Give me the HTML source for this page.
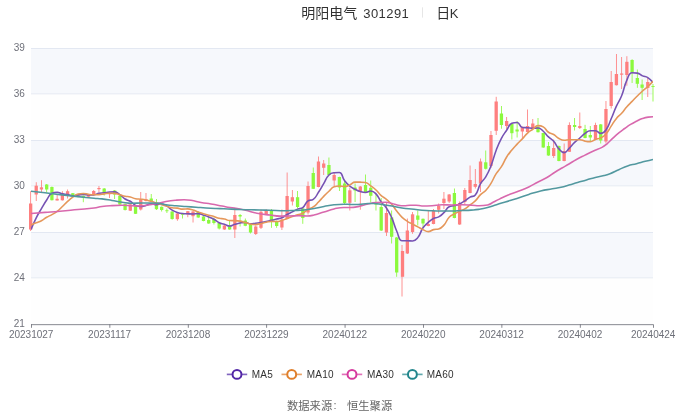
<!DOCTYPE html>
<html lang="zh"><head><meta charset="utf-8"><title>明阳电气 301291 日K</title>
<style>html,body{margin:0;padding:0;background:#fff}body{width:680px;height:413px;overflow:hidden;font-family:"Liberation Sans","Noto Sans CJK SC",sans-serif}svg{display:block}text{font-family:"Liberation Sans","Noto Sans CJK SC",sans-serif}</style></head><body>
<svg width="680" height="413" viewBox="0 0 680 413" role="img" aria-label="明阳电气 301291 日K">
<rect width="680" height="413" fill="#fff"/>
<rect x="31" y="48.5" width="622" height="45.4" fill="#f6f8fc"/>
<rect x="31" y="93.9" width="622" height="46.6" fill="#fefefe"/>
<rect x="31" y="140.5" width="622" height="45.35" fill="#f6f8fc"/>
<rect x="31" y="185.85" width="622" height="46.6" fill="#fefefe"/>
<rect x="31" y="232.45" width="622" height="45.4" fill="#f6f8fc"/>
<rect x="31" y="277.85" width="622" height="46.55" fill="#fefefe"/>
<rect x="31" y="48.07" width="622" height="0.86" fill="#dfe5f0"/>
<rect x="31" y="93.47" width="622" height="0.86" fill="#dfe5f0" fill-opacity="0.8"/>
<rect x="31" y="140.07" width="622" height="0.86" fill="#dfe5f0"/>
<rect x="31" y="185.42" width="622" height="0.86" fill="#dfe5f0" fill-opacity="0.8"/>
<rect x="31" y="232.02" width="622" height="0.86" fill="#dfe5f0"/>
<rect x="31" y="277.42" width="622" height="0.86" fill="#dfe5f0" fill-opacity="0.8"/>
<defs><filter id="tb" x="0" y="0" width="680" height="413" filterUnits="userSpaceOnUse"><feGaussianBlur stdDeviation="0.3"/></filter><clipPath id="gc"><rect x="31" y="46.5" width="622" height="279.9"/></clipPath></defs>
<g>
<g id="candles">
<rect x="30.23" y="191.2" width="0.84" height="39.8" fill="#fe7f7f"/>
<rect x="29" y="203.5" width="3.3" height="26" fill="#fe7f7f"/>
<rect x="35.81" y="182.2" width="0.84" height="18.8" fill="#fe7f7f"/>
<rect x="34.58" y="185.7" width="3.3" height="8.8" fill="#fe7f7f"/>
<rect x="41.03" y="180.2" width="0.84" height="12.8" fill="#fe7f7f"/>
<rect x="39.8" y="187.3" width="3.3" height="2.2" fill="#fe7f7f"/>
<rect x="46.26" y="184" width="0.84" height="8.5" fill="#8bf93d"/>
<rect x="45.03" y="184.5" width="3.3" height="5" fill="#8bf93d"/>
<rect x="51.49" y="186.5" width="0.84" height="14" fill="#8bf93d"/>
<rect x="50.26" y="187" width="3.3" height="13.2" fill="#8bf93d"/>
<rect x="56.71" y="194.5" width="0.84" height="6" fill="#fe7f7f"/>
<rect x="55.48" y="198.8" width="3.3" height="1.7" fill="#fe7f7f"/>
<rect x="61.94" y="191.2" width="0.84" height="9.3" fill="#fe7f7f"/>
<rect x="60.71" y="193.5" width="3.3" height="6.8" fill="#fe7f7f"/>
<rect x="67.17" y="189.5" width="0.84" height="9" fill="#fe7f7f"/>
<rect x="65.94" y="191.2" width="3.3" height="2.8" fill="#fe7f7f"/>
<rect x="72.4" y="193" width="0.84" height="2.8" fill="#8bf93d"/>
<rect x="71.17" y="193.2" width="3.3" height="2.3" fill="#8bf93d"/>
<rect x="77.62" y="195" width="0.84" height="2.3" fill="#fe7f7f"/>
<rect x="76.39" y="195.5" width="3.3" height="1.5" fill="#fe7f7f"/>
<rect x="82.85" y="195.5" width="0.84" height="6.7" fill="#8bf93d"/>
<rect x="81.62" y="195.8" width="3.3" height="1.4" fill="#8bf93d"/>
<rect x="88.08" y="194.5" width="0.84" height="2.5" fill="#fe7f7f"/>
<rect x="86.85" y="195" width="3.3" height="1.7" fill="#fe7f7f"/>
<rect x="93.3" y="190" width="0.84" height="5.3" fill="#fe7f7f"/>
<rect x="92.07" y="191" width="3.3" height="4" fill="#fe7f7f"/>
<rect x="98.53" y="186" width="0.84" height="6.5" fill="#fe7f7f"/>
<rect x="97.3" y="188" width="3.3" height="1.2" fill="#fe7f7f"/>
<rect x="103.76" y="188" width="0.84" height="7.5" fill="#8bf93d"/>
<rect x="102.53" y="188.5" width="3.3" height="4.5" fill="#8bf93d"/>
<rect x="108.98" y="192.5" width="0.84" height="5.5" fill="#fe7f7f"/>
<rect x="107.75" y="193" width="3.3" height="1.2" fill="#fe7f7f"/>
<rect x="114.21" y="190" width="0.84" height="9" fill="#8bf93d"/>
<rect x="112.98" y="190.5" width="3.3" height="4" fill="#8bf93d"/>
<rect x="119.44" y="195.5" width="0.84" height="9.5" fill="#8bf93d"/>
<rect x="118.21" y="195.8" width="3.3" height="8.7" fill="#8bf93d"/>
<rect x="124.66" y="203.5" width="0.84" height="7" fill="#8bf93d"/>
<rect x="123.43" y="204" width="3.3" height="6" fill="#8bf93d"/>
<rect x="129.89" y="204" width="0.84" height="7" fill="#fe7f7f"/>
<rect x="128.66" y="204.3" width="3.3" height="6.4" fill="#fe7f7f"/>
<rect x="135.12" y="205.5" width="0.84" height="8.5" fill="#8bf93d"/>
<rect x="133.89" y="206" width="3.3" height="7.8" fill="#8bf93d"/>
<rect x="140.34" y="192" width="0.84" height="18.5" fill="#fe7f7f"/>
<rect x="139.11" y="199.8" width="3.3" height="9.7" fill="#fe7f7f"/>
<rect x="145.57" y="193" width="0.84" height="8.5" fill="#fe7f7f"/>
<rect x="144.34" y="199.2" width="3.3" height="1.8" fill="#fe7f7f"/>
<rect x="150.8" y="194" width="0.84" height="7.8" fill="#8bf93d"/>
<rect x="149.57" y="198.5" width="3.3" height="3" fill="#8bf93d"/>
<rect x="156.03" y="199" width="0.84" height="11" fill="#8bf93d"/>
<rect x="154.8" y="202.8" width="3.3" height="6.4" fill="#8bf93d"/>
<rect x="161.25" y="206.5" width="0.84" height="5" fill="#8bf93d"/>
<rect x="160.02" y="206.8" width="3.3" height="3.2" fill="#8bf93d"/>
<rect x="166.48" y="208.5" width="0.84" height="4.5" fill="#8bf93d"/>
<rect x="165.25" y="210.3" width="3.3" height="0.9" fill="#8bf93d"/>
<rect x="171.71" y="211.2" width="0.84" height="8.5" fill="#8bf93d"/>
<rect x="170.48" y="211.5" width="3.3" height="7.5" fill="#8bf93d"/>
<rect x="176.93" y="212.5" width="0.84" height="8.3" fill="#fe7f7f"/>
<rect x="175.7" y="213.5" width="3.3" height="5.7" fill="#fe7f7f"/>
<rect x="182.16" y="213.5" width="0.84" height="5" fill="#8bf93d"/>
<rect x="180.93" y="213.8" width="3.3" height="0.9" fill="#8bf93d"/>
<rect x="187.39" y="211" width="0.84" height="6.2" fill="#fe7f7f"/>
<rect x="186.16" y="211.2" width="3.3" height="3.3" fill="#fe7f7f"/>
<rect x="192.61" y="211" width="0.84" height="11.5" fill="#fe7f7f"/>
<rect x="191.38" y="211.5" width="3.3" height="4.7" fill="#fe7f7f"/>
<rect x="197.84" y="211.5" width="0.84" height="6.3" fill="#8bf93d"/>
<rect x="196.61" y="212" width="3.3" height="5.5" fill="#8bf93d"/>
<rect x="203.07" y="216.2" width="0.84" height="5.1" fill="#8bf93d"/>
<rect x="201.84" y="216.5" width="3.3" height="4.5" fill="#8bf93d"/>
<rect x="208.29" y="217" width="0.84" height="6.8" fill="#8bf93d"/>
<rect x="207.06" y="220" width="3.3" height="3.5" fill="#8bf93d"/>
<rect x="213.52" y="217.5" width="0.84" height="7" fill="#8bf93d"/>
<rect x="212.29" y="219" width="3.3" height="4" fill="#8bf93d"/>
<rect x="218.75" y="222.7" width="0.84" height="6.8" fill="#8bf93d"/>
<rect x="217.52" y="223" width="3.3" height="5.5" fill="#8bf93d"/>
<rect x="223.97" y="225" width="0.84" height="4.8" fill="#fe7f7f"/>
<rect x="222.74" y="225.5" width="3.3" height="4" fill="#fe7f7f"/>
<rect x="229.2" y="220.5" width="0.84" height="9.3" fill="#8bf93d"/>
<rect x="227.97" y="226.2" width="3.3" height="3.3" fill="#8bf93d"/>
<rect x="234.43" y="210" width="0.84" height="28" fill="#fe7f7f"/>
<rect x="233.2" y="215" width="3.3" height="14.5" fill="#fe7f7f"/>
<rect x="239.66" y="214" width="0.84" height="12.5" fill="#8bf93d"/>
<rect x="238.43" y="215" width="3.3" height="1.5" fill="#8bf93d"/>
<rect x="244.88" y="218.5" width="0.84" height="7.7" fill="#8bf93d"/>
<rect x="243.65" y="220.5" width="3.3" height="5.3" fill="#8bf93d"/>
<rect x="250.11" y="224.2" width="0.84" height="9.3" fill="#8bf93d"/>
<rect x="248.88" y="224.5" width="3.3" height="8" fill="#8bf93d"/>
<rect x="255.34" y="225.5" width="0.84" height="9.5" fill="#fe7f7f"/>
<rect x="254.11" y="226.5" width="3.3" height="7.5" fill="#fe7f7f"/>
<rect x="260.56" y="209.5" width="0.84" height="19.5" fill="#fe7f7f"/>
<rect x="259.33" y="211.8" width="3.3" height="16" fill="#fe7f7f"/>
<rect x="265.79" y="209.2" width="0.84" height="5.3" fill="#fe7f7f"/>
<rect x="264.56" y="210.5" width="3.3" height="3.7" fill="#fe7f7f"/>
<rect x="271.02" y="209" width="0.84" height="18.8" fill="#8bf93d"/>
<rect x="269.79" y="210" width="3.3" height="10.5" fill="#8bf93d"/>
<rect x="276.24" y="220.5" width="0.84" height="7.3" fill="#8bf93d"/>
<rect x="275.01" y="222" width="3.3" height="4" fill="#8bf93d"/>
<rect x="281.47" y="209.5" width="0.84" height="20.5" fill="#fe7f7f"/>
<rect x="280.24" y="219.5" width="3.3" height="8" fill="#fe7f7f"/>
<rect x="286.7" y="172.5" width="0.84" height="46.8" fill="#fe7f7f"/>
<rect x="285.47" y="196" width="3.3" height="23" fill="#fe7f7f"/>
<rect x="291.92" y="190" width="0.84" height="15.5" fill="#fe7f7f"/>
<rect x="290.69" y="197.2" width="3.3" height="4.3" fill="#fe7f7f"/>
<rect x="297.15" y="191" width="0.84" height="17.5" fill="#8bf93d"/>
<rect x="295.92" y="197.2" width="3.3" height="9.8" fill="#8bf93d"/>
<rect x="302.38" y="208" width="0.84" height="15.8" fill="#8bf93d"/>
<rect x="301.15" y="208.5" width="3.3" height="9.5" fill="#8bf93d"/>
<rect x="307.61" y="181.5" width="0.84" height="33" fill="#fe7f7f"/>
<rect x="306.38" y="186" width="3.3" height="26.5" fill="#fe7f7f"/>
<rect x="312.83" y="167.5" width="0.84" height="21.5" fill="#8bf93d"/>
<rect x="311.6" y="173" width="3.3" height="15.8" fill="#8bf93d"/>
<rect x="318.06" y="156.5" width="0.84" height="30.8" fill="#fe7f7f"/>
<rect x="316.83" y="161.5" width="3.3" height="25.5" fill="#fe7f7f"/>
<rect x="323.29" y="160" width="0.84" height="15" fill="#fe7f7f"/>
<rect x="322.06" y="163.5" width="3.3" height="4.3" fill="#fe7f7f"/>
<rect x="328.51" y="157.5" width="0.84" height="17.8" fill="#8bf93d"/>
<rect x="327.28" y="165" width="3.3" height="10" fill="#8bf93d"/>
<rect x="333.74" y="172.5" width="0.84" height="13.5" fill="#fe7f7f"/>
<rect x="332.51" y="175" width="3.3" height="5.5" fill="#fe7f7f"/>
<rect x="338.97" y="176.7" width="0.84" height="14.3" fill="#8bf93d"/>
<rect x="337.74" y="177" width="3.3" height="10.5" fill="#8bf93d"/>
<rect x="344.19" y="180" width="0.84" height="25" fill="#8bf93d"/>
<rect x="342.96" y="183.5" width="3.3" height="19.5" fill="#8bf93d"/>
<rect x="349.42" y="187.5" width="0.84" height="23" fill="#fe7f7f"/>
<rect x="348.19" y="190.3" width="3.3" height="12.5" fill="#fe7f7f"/>
<rect x="354.65" y="183.5" width="0.84" height="18.5" fill="#8bf93d"/>
<rect x="353.42" y="187.5" width="3.3" height="3" fill="#8bf93d"/>
<rect x="359.87" y="186" width="0.84" height="23.7" fill="#fe7f7f"/>
<rect x="358.64" y="186.5" width="3.3" height="5" fill="#fe7f7f"/>
<rect x="365.1" y="174.5" width="0.84" height="17.8" fill="#8bf93d"/>
<rect x="363.87" y="185" width="3.3" height="7" fill="#8bf93d"/>
<rect x="370.33" y="180.5" width="0.84" height="22" fill="#8bf93d"/>
<rect x="369.1" y="187.8" width="3.3" height="8" fill="#8bf93d"/>
<rect x="375.55" y="194" width="0.84" height="16.5" fill="#8bf93d"/>
<rect x="374.32" y="202" width="3.3" height="2.5" fill="#8bf93d"/>
<rect x="380.78" y="198" width="0.84" height="33" fill="#8bf93d"/>
<rect x="379.55" y="207" width="3.3" height="23.5" fill="#8bf93d"/>
<rect x="386.01" y="203" width="0.84" height="33" fill="#fe7f7f"/>
<rect x="384.78" y="213" width="3.3" height="19.5" fill="#fe7f7f"/>
<rect x="391.24" y="210.5" width="0.84" height="33" fill="#8bf93d"/>
<rect x="390.01" y="217.5" width="3.3" height="19.3" fill="#8bf93d"/>
<rect x="396.26" y="237" width="0.84" height="39.8" fill="#8bf93d"/>
<rect x="395.03" y="237.5" width="3.3" height="35" fill="#8bf93d"/>
<rect x="401.59" y="245" width="0.84" height="51.5" fill="#fe7f7f"/>
<rect x="400.86" y="251" width="3.3" height="25.8" fill="#fe7f7f"/>
<rect x="406.92" y="218.5" width="0.84" height="35.5" fill="#fe7f7f"/>
<rect x="405.69" y="230.5" width="3.3" height="23" fill="#fe7f7f"/>
<rect x="412.14" y="212" width="0.84" height="21.8" fill="#fe7f7f"/>
<rect x="410.91" y="214.3" width="3.3" height="17.7" fill="#fe7f7f"/>
<rect x="417.37" y="210.5" width="0.84" height="15" fill="#8bf93d"/>
<rect x="416.14" y="215.5" width="3.3" height="4.3" fill="#8bf93d"/>
<rect x="422.6" y="218.5" width="0.84" height="8.5" fill="#8bf93d"/>
<rect x="421.37" y="218.8" width="3.3" height="4.7" fill="#8bf93d"/>
<rect x="427.82" y="211" width="0.84" height="15.3" fill="#fe7f7f"/>
<rect x="426.59" y="224" width="3.3" height="2" fill="#fe7f7f"/>
<rect x="433.05" y="209" width="0.84" height="15.3" fill="#fe7f7f"/>
<rect x="431.82" y="211" width="3.3" height="13" fill="#fe7f7f"/>
<rect x="438.28" y="203.5" width="0.84" height="10" fill="#fe7f7f"/>
<rect x="437.05" y="205.8" width="3.3" height="4" fill="#fe7f7f"/>
<rect x="443.5" y="192" width="0.84" height="17" fill="#fe7f7f"/>
<rect x="442.27" y="198.7" width="3.3" height="4.3" fill="#fe7f7f"/>
<rect x="448.73" y="194" width="0.84" height="9" fill="#fe7f7f"/>
<rect x="447.5" y="194.5" width="3.3" height="7" fill="#fe7f7f"/>
<rect x="453.96" y="188.5" width="0.84" height="29.8" fill="#8bf93d"/>
<rect x="452.73" y="193" width="3.3" height="25" fill="#8bf93d"/>
<rect x="459.19" y="201.5" width="0.84" height="23.3" fill="#fe7f7f"/>
<rect x="457.96" y="203" width="3.3" height="21.5" fill="#fe7f7f"/>
<rect x="464.41" y="188" width="0.84" height="16.5" fill="#fe7f7f"/>
<rect x="463.18" y="190" width="3.3" height="12" fill="#fe7f7f"/>
<rect x="469.64" y="165.5" width="0.84" height="27.8" fill="#fe7f7f"/>
<rect x="468.41" y="180" width="3.3" height="13" fill="#fe7f7f"/>
<rect x="474.87" y="169" width="0.84" height="19.5" fill="#fe7f7f"/>
<rect x="473.64" y="184" width="3.3" height="2.8" fill="#fe7f7f"/>
<rect x="480.09" y="158.5" width="0.84" height="33.5" fill="#fe7f7f"/>
<rect x="478.86" y="161.5" width="3.3" height="22" fill="#fe7f7f"/>
<rect x="485.32" y="150.5" width="0.84" height="19" fill="#8bf93d"/>
<rect x="484.09" y="162.3" width="3.3" height="6.5" fill="#8bf93d"/>
<rect x="490.55" y="131" width="0.84" height="37" fill="#fe7f7f"/>
<rect x="489.32" y="135" width="3.3" height="31" fill="#fe7f7f"/>
<rect x="495.77" y="96.8" width="0.84" height="38.2" fill="#fe7f7f"/>
<rect x="494.54" y="101.5" width="3.3" height="29.3" fill="#fe7f7f"/>
<rect x="501" y="106" width="0.84" height="22.7" fill="#8bf93d"/>
<rect x="499.77" y="113.5" width="3.3" height="11.5" fill="#8bf93d"/>
<rect x="506.23" y="117" width="0.84" height="12" fill="#fe7f7f"/>
<rect x="505" y="121" width="3.3" height="5" fill="#fe7f7f"/>
<rect x="511.45" y="123" width="0.84" height="16.5" fill="#8bf93d"/>
<rect x="510.22" y="124" width="3.3" height="9.2" fill="#8bf93d"/>
<rect x="516.68" y="121" width="0.84" height="16.5" fill="#8bf93d"/>
<rect x="515.45" y="129.5" width="3.3" height="2" fill="#8bf93d"/>
<rect x="521.91" y="126.5" width="0.84" height="11.5" fill="#fe7f7f"/>
<rect x="520.68" y="127" width="3.3" height="4.5" fill="#fe7f7f"/>
<rect x="527.13" y="109.5" width="0.84" height="22.8" fill="#fe7f7f"/>
<rect x="525.9" y="126" width="3.3" height="6" fill="#fe7f7f"/>
<rect x="532.36" y="119" width="0.84" height="9.3" fill="#fe7f7f"/>
<rect x="531.13" y="123.5" width="3.3" height="4.5" fill="#fe7f7f"/>
<rect x="537.59" y="118" width="0.84" height="14.5" fill="#8bf93d"/>
<rect x="536.36" y="126.7" width="3.3" height="5.5" fill="#8bf93d"/>
<rect x="542.82" y="132.7" width="0.84" height="15.1" fill="#8bf93d"/>
<rect x="541.59" y="133" width="3.3" height="14.5" fill="#8bf93d"/>
<rect x="548.04" y="142" width="0.84" height="13.8" fill="#8bf93d"/>
<rect x="546.81" y="146" width="3.3" height="9.5" fill="#8bf93d"/>
<rect x="553.27" y="139.5" width="0.84" height="18.5" fill="#fe7f7f"/>
<rect x="552.04" y="148" width="3.3" height="8" fill="#fe7f7f"/>
<rect x="558.5" y="145.5" width="0.84" height="15.8" fill="#8bf93d"/>
<rect x="557.27" y="146" width="3.3" height="15" fill="#8bf93d"/>
<rect x="563.72" y="143.5" width="0.84" height="17.8" fill="#fe7f7f"/>
<rect x="562.49" y="151" width="3.3" height="10" fill="#fe7f7f"/>
<rect x="568.95" y="122.3" width="0.84" height="29.7" fill="#fe7f7f"/>
<rect x="567.72" y="125" width="3.3" height="26.8" fill="#fe7f7f"/>
<rect x="574.18" y="118" width="0.84" height="12.5" fill="#8bf93d"/>
<rect x="572.95" y="125" width="3.3" height="2" fill="#8bf93d"/>
<rect x="579.4" y="112.5" width="0.84" height="16.5" fill="#fe7f7f"/>
<rect x="578.17" y="126" width="3.3" height="2" fill="#fe7f7f"/>
<rect x="584.63" y="124.8" width="0.84" height="13.5" fill="#8bf93d"/>
<rect x="583.4" y="129" width="3.3" height="9" fill="#8bf93d"/>
<rect x="589.86" y="126" width="0.84" height="15" fill="#8bf93d"/>
<rect x="588.63" y="135" width="3.3" height="2.5" fill="#8bf93d"/>
<rect x="595.08" y="122.7" width="0.84" height="17.1" fill="#fe7f7f"/>
<rect x="593.85" y="125" width="3.3" height="14.5" fill="#fe7f7f"/>
<rect x="600.31" y="124" width="0.84" height="19.5" fill="#8bf93d"/>
<rect x="599.08" y="124.4" width="3.3" height="16.1" fill="#8bf93d"/>
<rect x="605.54" y="101" width="0.84" height="42.5" fill="#fe7f7f"/>
<rect x="604.31" y="109" width="3.3" height="32.5" fill="#fe7f7f"/>
<rect x="610.76" y="71" width="0.84" height="37.5" fill="#fe7f7f"/>
<rect x="609.53" y="82" width="3.3" height="24" fill="#fe7f7f"/>
<rect x="615.99" y="54" width="0.84" height="31.5" fill="#fe7f7f"/>
<rect x="614.76" y="74" width="3.3" height="11.2" fill="#fe7f7f"/>
<rect x="621.22" y="57" width="0.84" height="32" fill="#fe7f7f"/>
<rect x="619.99" y="73.5" width="3.3" height="1.2" fill="#fe7f7f"/>
<rect x="626.45" y="56.2" width="0.84" height="29.5" fill="#fe7f7f"/>
<rect x="625.22" y="61.8" width="3.3" height="13.2" fill="#fe7f7f"/>
<rect x="631.67" y="59.2" width="0.84" height="23.8" fill="#8bf93d"/>
<rect x="630.44" y="60" width="3.3" height="12.5" fill="#8bf93d"/>
<rect x="636.9" y="69.5" width="0.84" height="18.3" fill="#8bf93d"/>
<rect x="635.67" y="78" width="3.3" height="5.8" fill="#8bf93d"/>
<rect x="641.68" y="79.5" width="0.84" height="20.5" fill="#8bf93d"/>
<rect x="640.45" y="84.5" width="3.3" height="3.3" fill="#8bf93d"/>
<rect x="647.35" y="77.5" width="0.84" height="19.5" fill="#fe7f7f"/>
<rect x="646.12" y="82" width="3.3" height="6" fill="#fe7f7f"/>
<rect x="652.58" y="84" width="0.84" height="17.5" fill="#8bf93d"/>
<rect x="651.35" y="86" width="3.3" height="0.9" fill="#8bf93d"/>
</g>
<g clip-path="url(#gc)">
<path d="M31 229.5C31 229.5 33.36 223.52 36.23 217.8C38.59 213.07 38.77 213.16 41.45 208.6C44 204.26 43.85 204.15 46.68 200C49.08 196.47 48.68 194.75 51.91 193.24C53.91 192.3 54.56 192.3 57.13 192.3C59.78 192.3 59.71 193.27 62.36 193.86C64.93 194.44 64.99 194.15 67.59 194.64C70.22 195.14 70.19 195.84 72.82 195.84C75.42 195.84 75.41 195.22 78.04 194.9C80.64 194.59 80.66 194.58 83.27 194.58C85.88 194.58 85.88 194.88 88.5 194.88C91.11 194.88 91.16 194.88 93.72 194.84C96.39 194.8 96.29 193.85 98.95 193.34C101.52 192.85 101.57 193.17 104.18 192.84C106.8 192.5 106.77 192.1 109.4 192C112 191.9 112.17 191.9 114.63 191.9C117.4 191.9 117.44 192.96 119.86 194.6C122.67 196.51 122.23 197.18 125.08 199C127.46 200.51 127.91 199.78 130.31 201.26C133.13 202.99 132.63 204.09 135.54 205.42C137.86 206.48 138.15 206.48 140.76 206.48C143.38 206.48 143.42 206.1 145.99 205.42C148.64 204.72 148.56 203.72 151.22 203.72C153.79 203.72 153.82 204.7 156.45 204.7C159.05 204.7 159.15 203.94 161.67 203.94C164.38 203.94 164.47 204.73 166.9 206.16C169.7 207.82 169.34 208.43 172.13 210.12C174.57 211.61 174.64 211.62 177.35 212.52C179.87 213.35 179.94 213.34 182.58 213.58C185.17 213.82 185.19 213.73 187.81 213.82C190.42 213.91 190.42 213.94 193.03 213.94C195.65 213.94 195.7 213.64 198.26 213.64C200.92 213.64 200.9 214.32 203.49 215.14C206.12 215.97 206.15 215.92 208.71 216.94C211.38 218 211.44 217.92 213.94 219.3C216.66 220.8 216.38 221.37 219.17 222.7C221.61 223.87 221.79 223.48 224.39 224.3C227.02 225.13 227.01 226 229.62 226C232.24 226 232.21 225.06 234.85 224.3C237.44 223.56 237.43 223.47 240.08 223C242.66 222.55 242.73 222.46 245.3 222.46C247.95 222.46 247.88 223.86 250.53 223.86C253.11 223.86 253.14 223.57 255.76 223.26C258.37 222.95 258.39 223.08 260.98 222.62C263.62 222.16 263.59 221.99 266.21 221.42C268.82 220.86 268.84 220.95 271.44 220.36C274.06 219.77 274.06 219.73 276.66 219.06C279.28 218.38 279.44 218.73 281.89 217.66C284.66 216.45 284.45 215.98 287.12 214.5C289.68 213.07 289.74 213.18 292.34 211.84C294.96 210.5 294.86 210.25 297.57 209.14C300.09 208.1 300.75 209.14 302.8 207.54C305.98 205.05 304.83 203.1 308.03 200.84C310.06 199.4 311.27 200.84 313.25 199.4C316.49 197.05 316.04 195.95 318.48 192.26C321.27 188.03 321.08 187.9 323.71 183.56C326.31 179.25 325.59 178.41 328.93 174.96C330.82 173.01 331.44 173.04 334.16 172.76C336.67 172.5 337.57 172.5 339.39 172.5C342.79 172.5 341.65 176.93 344.61 180.8C346.88 183.76 346.96 183.83 349.84 186.16C352.18 188.06 352.37 187.87 355.07 189.26C357.6 190.57 357.58 190.73 360.29 191.56C362.81 192.33 362.94 192.46 365.52 192.46C368.16 192.46 368.26 191.02 370.75 191.02C373.48 191.02 373.97 191.78 375.97 193.86C379.2 197.2 378.36 198.03 381.2 201.86C383.59 205.08 384.22 204.63 386.43 207.96C389.45 212.51 389.43 212.61 391.66 217.62C394.66 224.36 393.85 224.74 396.88 231.46C399.07 236.31 398.6 240.76 402.11 240.76C403.83 240.76 404.72 240.76 407.34 240.76C409.95 240.76 410.18 241.02 412.56 241.02C415.4 241.02 415.91 239.99 417.79 237.62C421.14 233.39 419.9 232.35 423.02 227.82C425.13 224.75 425.45 224.91 428.24 222.42C430.67 220.26 430.63 220.04 433.47 218.52C435.86 217.24 436.35 218.15 438.7 216.82C441.57 215.19 441.51 214.92 443.92 212.6C446.73 209.91 446.05 208.55 449.15 206.8C451.28 205.6 451.79 206.29 454.38 205.6C457.02 204.89 457.14 205.12 459.61 204C462.36 202.74 462.29 202.52 464.83 200.84C467.51 199.07 467.27 198.66 470.06 197.1C472.5 195.74 473.66 197.09 475.29 195C478.88 190.39 477.42 189.06 480.51 183.7C482.65 179.99 483.57 180.55 485.74 176.86C488.8 171.63 488.75 171.52 490.97 165.86C493.98 158.17 493.26 157.88 496.19 150.16C498.48 144.13 498.43 144.06 501.42 138.36C503.66 134.11 503.92 134.23 506.65 130.26C509.15 126.62 508.6 124.31 511.87 123.14C513.83 122.44 514.91 122.44 517.1 122.44C520.14 122.44 519.28 127.26 522.33 127.54C524.51 127.74 524.95 127.57 527.55 127.74C530.17 127.92 530.16 128.24 532.78 128.24C535.39 128.24 535.6 128.04 538.01 128.04C540.83 128.04 540.92 129.27 543.24 131.24C546.15 133.72 545.69 134.26 548.46 136.94C550.91 139.31 551.45 138.8 553.69 141.34C556.68 144.75 555.85 145.54 558.92 148.84C561.08 151.17 561.62 152.6 564.14 152.6C566.85 152.6 566.91 150.5 569.37 148.1C572.13 145.4 571.82 145.08 574.6 142.4C577.05 140.03 577.23 140.23 579.82 138C582.46 135.73 582.22 135.38 585.05 133.4C587.44 131.73 587.51 130.7 590.28 130.7C592.74 130.7 593.05 130.7 595.5 130.7C598.27 130.7 598.19 133.4 600.73 133.4C603.42 133.4 604.21 132.45 605.96 130C609.43 125.15 608.71 124.46 611.18 118.8C613.94 112.51 613.57 112.35 616.41 106.1C618.8 100.85 619.49 101.15 621.64 95.8C624.72 88.13 623.47 87.53 626.87 80.06C628.7 76.01 628.79 72.76 632.09 72.76C634.02 72.76 634.86 72.76 637.32 73.12C640.09 73.53 639.84 74.72 642.55 75.88C645.06 76.95 645.52 76.13 647.77 77.58C650.75 79.49 653 82.6 653 82.6" fill="none" stroke="#7652b3" stroke-width="1.58" stroke-linejoin="round"/>
<path d="M31 225C31 225 33.6 223.88 36.23 222.8C38.83 221.73 38.97 222.01 41.45 220.7C44.2 219.26 43.99 218.87 46.68 217.3C49.22 215.82 49.35 216.04 51.91 214.6C54.57 213.09 54.72 213.27 57.13 211.4C59.95 209.22 59.77 208.98 62.36 206.5C65 203.98 64.86 203.82 67.59 201.4C70.09 199.17 70.08 199.12 72.82 197.2C75.3 195.46 75.24 194.8 78.04 194.07C80.47 193.44 80.67 193.44 83.27 193.44C85.89 193.44 85.87 194.04 88.5 194.37C91.09 194.69 91.11 194.74 93.72 194.74C96.33 194.74 96.35 194.74 98.95 194.59C101.57 194.44 101.56 194.2 104.18 193.87C106.79 193.55 106.78 193.29 109.4 193.29C112.01 193.29 112.06 193.29 114.63 193.39C117.28 193.49 117.25 194.03 119.86 194.72C122.48 195.42 122.44 195.58 125.08 196.17C127.67 196.75 127.74 196.43 130.31 197.05C132.97 197.7 132.87 198.21 135.54 198.71C138.09 199.19 138.16 198.87 140.76 199.19C143.39 199.52 143.4 199.47 145.99 200.01C148.63 200.56 148.62 200.62 151.22 201.36C153.85 202.11 153.84 202.15 156.45 202.98C159.06 203.81 159.05 203.84 161.67 204.68C164.28 205.51 164.27 205.54 166.9 206.32C169.5 207.09 169.47 207.41 172.13 207.77C174.69 208.12 174.76 207.78 177.35 208.12C179.99 208.47 179.94 209.14 182.58 209.14C185.17 209.14 185.22 208.88 187.81 208.88C190.45 208.88 190.46 209.31 193.03 210.05C195.69 210.81 195.66 210.94 198.26 211.88C200.88 212.83 200.84 212.97 203.49 213.83C206.06 214.66 206.09 214.58 208.71 215.26C211.32 215.94 211.36 215.8 213.94 216.56C216.59 217.33 216.49 217.7 219.17 218.32C221.72 218.91 221.83 218.42 224.39 218.97C227.06 219.54 226.95 220.52 229.62 220.57C232.18 220.62 232.24 220.57 234.85 220.62C237.47 220.67 237.5 220.67 240.08 221.15C242.73 221.65 242.69 221.85 245.3 222.58C247.92 223.31 247.87 223.56 250.53 224.08C253.1 224.58 253.17 224.63 255.76 224.63C258.39 224.63 258.37 224.06 260.98 223.46C263.6 222.85 263.58 222.73 266.21 222.21C268.8 221.7 268.81 221.41 271.44 221.41C274.04 221.41 274.07 221.46 276.66 221.46C279.3 221.46 279.33 221.17 281.89 220.46C284.56 219.72 284.51 219.52 287.12 218.56C289.73 217.6 289.73 217.58 292.34 216.63C294.95 215.68 294.93 215.59 297.57 214.75C300.15 213.93 300.44 214.54 302.8 213.3C305.67 211.79 305.22 210.95 308.03 209.25C310.45 207.78 310.93 208.55 313.25 206.95C316.16 204.95 315.97 204.6 318.48 202.05C321.19 199.3 321.02 199.13 323.71 196.35C326.24 193.73 326.24 193.71 328.93 191.25C331.47 188.94 331.21 187.9 334.16 186.8C336.44 185.95 336.76 185.95 339.39 185.95C341.99 185.95 342.06 186.53 344.61 186.53C347.28 186.53 347.32 185.92 349.84 184.86C352.55 183.71 352.29 182.11 355.07 182.11C357.52 182.11 357.68 182.11 360.29 182.16C362.91 182.21 363.14 182.16 365.52 182.48C368.37 182.86 368.21 184.08 370.75 185.91C373.44 187.85 373.54 187.76 375.97 190.01C378.77 192.59 378.37 193.03 381.2 195.56C383.6 197.7 383.95 197.29 386.43 199.36C389.18 201.66 389.29 201.6 391.66 204.29C394.52 207.54 394.16 207.85 396.88 211.24C399.39 214.36 399.24 214.55 402.11 217.31C404.47 219.58 404.58 219.53 407.34 221.31C409.81 222.92 409.95 222.7 412.56 224.09C415.18 225.48 415.18 225.48 417.79 226.87C420.4 228.26 420.33 228.43 423.02 229.64C425.55 230.79 425.63 231.59 428.24 231.59C430.86 231.59 430.78 230.33 433.47 229.64C436.01 228.99 436.35 229.64 438.7 228.92C441.58 228.04 441.79 227.48 443.92 225.11C447.02 221.67 446 220.66 449.15 217.31C451.23 215.11 451.71 215.56 454.38 214.01C456.93 212.53 456.96 212.57 459.61 211.26C462.19 209.98 462.39 210.33 464.83 208.83C467.62 207.12 467.44 206.84 470.06 204.85C472.67 202.87 472.96 203.17 475.29 200.9C478.18 198.07 477.65 197.52 480.51 194.65C482.87 192.28 483.48 192.88 485.74 190.43C488.7 187.23 488.65 187.08 490.97 183.35C493.87 178.68 493.27 178.29 496.19 173.63C498.5 169.96 499.11 170.35 501.42 166.68C504.34 162.03 503.73 161.64 506.65 156.98C508.96 153.3 509.12 153.38 511.87 150C514.35 146.96 514.42 147.01 517.1 144.15C519.65 141.44 519.78 141.56 522.33 138.85C525 136.01 524.69 135.68 527.55 133.05C529.92 130.88 530.15 131.13 532.78 129.25C535.38 127.4 535.17 125.59 538.01 125.59C540.4 125.59 541.06 125.59 543.24 126.84C546.28 128.59 545.49 130.05 548.46 132.24C550.72 133.9 551.26 133.08 553.69 134.54C556.49 136.23 556.07 136.97 558.92 138.54C561.3 139.86 561.47 140.32 564.14 140.32C566.69 140.32 566.75 139.67 569.37 139.67C571.97 139.67 571.98 139.67 574.6 139.67C577.21 139.67 577.26 139.67 579.82 139.67C582.49 139.67 582.4 140.62 585.05 141.12C587.62 141.61 587.77 141.65 590.28 141.65C593 141.65 592.83 140.36 595.5 139.4C598.06 138.48 598.35 139.13 600.73 137.9C603.58 136.43 603.83 136.41 605.96 134C609.05 130.51 608.55 130.03 611.18 126.1C613.78 122.23 613.49 121.99 616.41 118.4C618.72 115.57 619.19 115.98 621.64 113.25C624.42 110.14 624.11 109.86 626.87 106.73C629.33 103.93 629.49 104.06 632.09 101.38C634.71 98.68 634.65 98.61 637.32 95.96C639.88 93.42 639.85 93.38 642.55 90.99C645.08 88.75 645.29 88.98 647.77 86.69C650.52 84.15 653 81.33 653 81.33" fill="none" stroke="#e5975a" stroke-width="1.58" stroke-linejoin="round"/>
<path d="M31 213.5C31 213.5 38 212.96 45 212.4C52.5 211.81 52.51 211.86 60 211.2C69.01 210.41 69 210.35 78 209.5C86 208.75 86.03 209 94 208C98.03 207.5 97.97 207.04 102 206.5C106.97 205.84 106.99 205.9 112 205.6C116.99 205.3 117 205.3 122 205.3C127 205.3 127 205.51 132 205.7C136 205.86 136.01 206 140 206C144.01 206 144.01 205.57 148 205C151.01 204.57 151 204.51 154 204C156 203.66 156.01 203.71 158 203.3C162.01 202.46 161.96 202.2 166 201.5C170.96 200.65 170.98 200.67 176 200.2C179.98 199.82 180 199.8 184 199.8C187.5 199.8 187.54 199.8 191 200.3C196.04 201.03 195.97 201.57 201 202.5C205.97 203.42 206.01 203.17 211 204C216.51 204.92 216.5 204.99 222 206C226 206.74 225.99 206.83 230 207.5C234.99 208.33 235.05 208.01 240 209C245.05 210.01 244.99 210.3 250 211.5C254.99 212.7 254.95 212.92 260 213.8C264.95 214.67 265 214.42 270 215C275 215.57 274.99 216.1 280 216.1C284.49 216.1 284.5 216.07 289 216C294 215.92 294 215.8 299 215.8C303 215.8 303.02 216 307 216C310.52 216 310.57 215.81 314 215C319.07 213.81 319 213.5 324 212C329 210.5 328.92 210.14 334 209C338.92 207.89 338.98 207.5 344 207.5C346.98 207.5 347.01 207.5 350 207.5C354.01 207.5 354.06 207.37 358 206.6C363.06 205.62 362.96 205.12 368 204C371.96 203.12 371.97 202.92 376 202.6C380.97 202.2 381.04 202.2 386 202.2C389.04 202.2 389.02 202.76 392 203.5C395.02 204.26 394.95 204.62 398 205.2C400.95 205.77 401 205.8 404 205.8C407 205.8 407 205.4 410 205.3C413 205.2 413.01 205.2 416 205.2C419.01 205.2 418.98 206 422 206C426.98 206 427.01 206 432 205.7C437.01 205.4 436.99 204.8 442 204.8C446.99 204.8 447 205 452 205C457 205 457 204.8 462 204.8C467 204.8 467 204.94 472 205.2C475.5 205.39 475.5 205.7 479 205.7C483.3 205.7 483.5 205.7 487.6 205C490.75 204.46 490.54 203.48 493.5 202C496.44 200.53 496.43 200.51 499.4 199.1C503.78 197.01 503.72 196.86 508.2 195C512.52 193.21 512.64 193.49 517 191.8C522.94 189.49 523.04 189.69 528.8 187C533.34 184.89 533.15 184.51 537.6 182.2C542 179.91 542.21 180.27 546.5 177.8C551.06 175.17 550.85 174.82 555.3 172C558.6 169.92 558.63 169.97 562 168C565.48 165.97 565.53 166.06 569 164C572.53 161.91 572.41 161.7 576 159.7C580.41 157.25 580.47 157.34 585 155.1C589.47 152.89 589.46 152.86 594 150.8C597.96 149.01 598.2 149.45 602 147.4C604.7 145.95 604.66 145.79 607 143.8C610.11 141.14 609.89 140.88 612.9 138.1C615.79 135.43 615.75 135.38 618.8 132.9C621.65 130.58 621.71 130.65 624.7 128.5C627.61 126.4 627.55 126.29 630.6 124.4C633.45 122.64 633.5 122.7 636.5 121.2C639.4 119.75 639.35 119.57 642.4 118.5C645.2 117.52 645.27 117.47 648.2 117.1C650.57 116.8 653 116.8 653 116.8" fill="none" stroke="#d868ad" stroke-width="1.58" stroke-linejoin="round"/>
<path d="M31 191.2C31 191.2 38 191.98 45 192.8C52.5 193.68 52.5 193.74 60 194.6C69 195.64 69 195.65 78 196.6C86 197.45 86 197.43 94 198.2C98 198.58 98.02 198.39 102 198.9C107.02 199.54 107 199.68 112 200.5C117 201.33 116.98 201.52 122 202.2C126.98 202.87 126.99 203.2 132 203.2C136.99 203.2 137 203 142 203C147 203 147 203 152 203C155 203 155.03 203 158 203.2C162.03 203.47 161.97 204.22 166 204.8C170.97 205.52 170.99 205.37 176 205.8C180.99 206.22 181 206.15 186 206.5C191 206.85 191 206.83 196 207.2C201 207.58 201 207.67 206 208C211 208.32 211 208.31 216 208.5C220 208.66 220 208.53 224 208.7C232 209.03 232 209.21 240 209.5C250 209.86 250 209.73 260 210C265 210.13 265 210.17 270 210.3C278 210.52 278 210.7 286 210.7C290 210.7 290 210.66 294 210.5C299 210.31 299.02 210.5 304 210C309.02 209.5 309.02 209.37 314 208.5C319.02 207.62 318.99 207.43 324 206.5C328.99 205.58 328.97 205.38 334 204.8C338.97 204.23 339 204.2 344 204.2C347 204.2 347 204.34 350 204.4C354 204.49 354.01 204.5 358 204.5C363.01 204.5 362.99 203.5 368 203.5C370.99 203.5 371.01 203.5 374 203.5C378.01 203.5 378.01 203.95 382 204.5C387.01 205.2 387.02 205.13 392 206C397.02 206.88 396.96 207.27 402 208C407.96 208.87 408.01 208.54 414 209.2C418.01 209.64 417.99 209.84 422 210.2C426.99 210.64 427 210.6 432 210.8C437 211 437 211 442 211C447 211 447 211 452 211C457 211 457 210.74 462 210.5C466.5 210.29 466.51 210.39 471 210.1C474.91 209.84 474.93 209.98 478.8 209.4C483.23 208.73 483.27 208.75 487.6 207.6C492.12 206.4 492.04 206.11 496.5 204.7C500.89 203.31 500.9 203.35 505.3 202C511.15 200.2 511.18 200.28 517 198.4C522.93 196.48 522.86 196.26 528.8 194.4C534.66 192.56 534.63 192.42 540.6 191C546.43 189.62 546.5 189.9 552.4 188.8C556.7 188 556.74 188.18 561 187.2C565.04 186.28 565.01 186.13 569 185C573.31 183.78 573.29 183.73 577.6 182.5C582.04 181.23 582.06 181.28 586.5 180C590.91 178.73 590.85 178.51 595.3 177.4C599.65 176.31 599.75 176.69 604.1 175.6C607.1 174.84 607.13 174.85 610 173.7C614.48 171.9 614.38 171.66 618.8 169.7C623.18 167.76 623.08 167.43 627.6 165.9C631.93 164.43 632.06 164.85 636.5 163.7C640.91 162.55 640.89 162.45 645.3 161.3C649.14 160.3 653 159.4 653 159.4" fill="none" stroke="#52989f" stroke-width="1.58" stroke-linejoin="round"/>
</g></g>
<g filter="url(#tb)">
<rect x="31" y="324.3" width="622" height="0.83" fill="#6E7079"/>
<rect x="31.04" y="324.3" width="0.83" height="3.5" fill="#6E7079"/>
<text x="31.2" y="338" font-size="10" fill="#6E7079" text-anchor="middle">20231027</text>
<rect x="109.44" y="324.3" width="0.83" height="3.5" fill="#6E7079"/>
<text x="109.6" y="338" font-size="10" fill="#6E7079" text-anchor="middle">20231117</text>
<rect x="187.84" y="324.3" width="0.83" height="3.5" fill="#6E7079"/>
<text x="188.01" y="338" font-size="10" fill="#6E7079" text-anchor="middle">20231208</text>
<rect x="266.25" y="324.3" width="0.83" height="3.5" fill="#6E7079"/>
<text x="266.41" y="338" font-size="10" fill="#6E7079" text-anchor="middle">20231229</text>
<rect x="344.65" y="324.3" width="0.83" height="3.5" fill="#6E7079"/>
<text x="344.81" y="338" font-size="10" fill="#6E7079" text-anchor="middle">20240122</text>
<rect x="423.05" y="324.3" width="0.83" height="3.5" fill="#6E7079"/>
<text x="423.22" y="338" font-size="10" fill="#6E7079" text-anchor="middle">20240220</text>
<rect x="501.46" y="324.3" width="0.83" height="3.5" fill="#6E7079"/>
<text x="501.62" y="338" font-size="10" fill="#6E7079" text-anchor="middle">20240312</text>
<rect x="579.86" y="324.3" width="0.83" height="3.5" fill="#6E7079"/>
<text x="580.02" y="338" font-size="10" fill="#6E7079" text-anchor="middle">20240402</text>
<rect x="653.04" y="324.3" width="0.83" height="3.5" fill="#6E7079"/>
<text x="653.2" y="338" font-size="10" fill="#6E7079" text-anchor="middle">20240424</text>
<text x="24.9" y="51.3" font-size="10" fill="#6E7079" text-anchor="end">39</text>
<text x="24.9" y="97.3" font-size="10" fill="#6E7079" text-anchor="end">36</text>
<text x="24.9" y="143.3" font-size="10" fill="#6E7079" text-anchor="end">33</text>
<text x="24.9" y="189.3" font-size="10" fill="#6E7079" text-anchor="end">30</text>
<text x="24.9" y="235.3" font-size="10" fill="#6E7079" text-anchor="end">27</text>
<text x="24.9" y="281.3" font-size="10" fill="#6E7079" text-anchor="end">24</text>
<text x="24.9" y="327.3" font-size="10" fill="#6E7079" text-anchor="end">21</text>
<path d="M226.8 374.4H247.2" stroke="#5228a6" stroke-width="1.67" stroke-opacity="0.72" fill="none"/>
<circle cx="237" cy="374.4" r="4.45" fill="#fff" stroke="#5228a6" stroke-width="2"/>
<text x="251.8" y="377.9" font-size="10" letter-spacing="0.2" fill="#333">MA5</text>
<path d="M281.5 374.4H301.9" stroke="#e07f2c" stroke-width="1.67" stroke-opacity="0.72" fill="none"/>
<circle cx="291.7" cy="374.4" r="4.45" fill="#fff" stroke="#e07f2c" stroke-width="2"/>
<text x="306.8" y="377.9" font-size="10" letter-spacing="0.2" fill="#333">MA10</text>
<path d="M341.8 374.4H362.2" stroke="#d63a9e" stroke-width="1.67" stroke-opacity="0.72" fill="none"/>
<circle cx="352" cy="374.4" r="4.45" fill="#fff" stroke="#d63a9e" stroke-width="2"/>
<text x="367" y="377.9" font-size="10" letter-spacing="0.2" fill="#333">MA30</text>
<path d="M402.2 374.4H422.6" stroke="#23868c" stroke-width="1.67" stroke-opacity="0.72" fill="none"/>
<circle cx="412.4" cy="374.4" r="4.45" fill="#fff" stroke="#23868c" stroke-width="2"/>
<text x="426.8" y="377.9" font-size="10" letter-spacing="0.2" fill="#333">MA60</text>
<g id="title" aria-label="明阳电气 301291 日K">
<text x="301.3" y="18.1" font-size="14" fill="#333">明阳电气</text>
<text x="363.3" y="17.9" font-size="13" letter-spacing="0.43" fill="#333">301291</text>
<rect x="422" y="7.3" width="0.9" height="10.3" fill="#e4e4e4"/>
<text x="436.3" y="18.1" font-size="14" fill="#333">日</text>
<text x="449.8" y="17.9" font-size="13" fill="#333">K</text>
</g>
<g id="footer" aria-label="数据来源: 恒生聚源">
<text x="287" y="409.9" font-size="11.3" fill="#666">数据来源</text>
<text x="333.6" y="409.4" font-size="11" fill="#666">:</text>
<text x="347" y="409.9" font-size="11.3" fill="#666">恒生聚源</text>
</g>
</g>
</svg></body></html>
